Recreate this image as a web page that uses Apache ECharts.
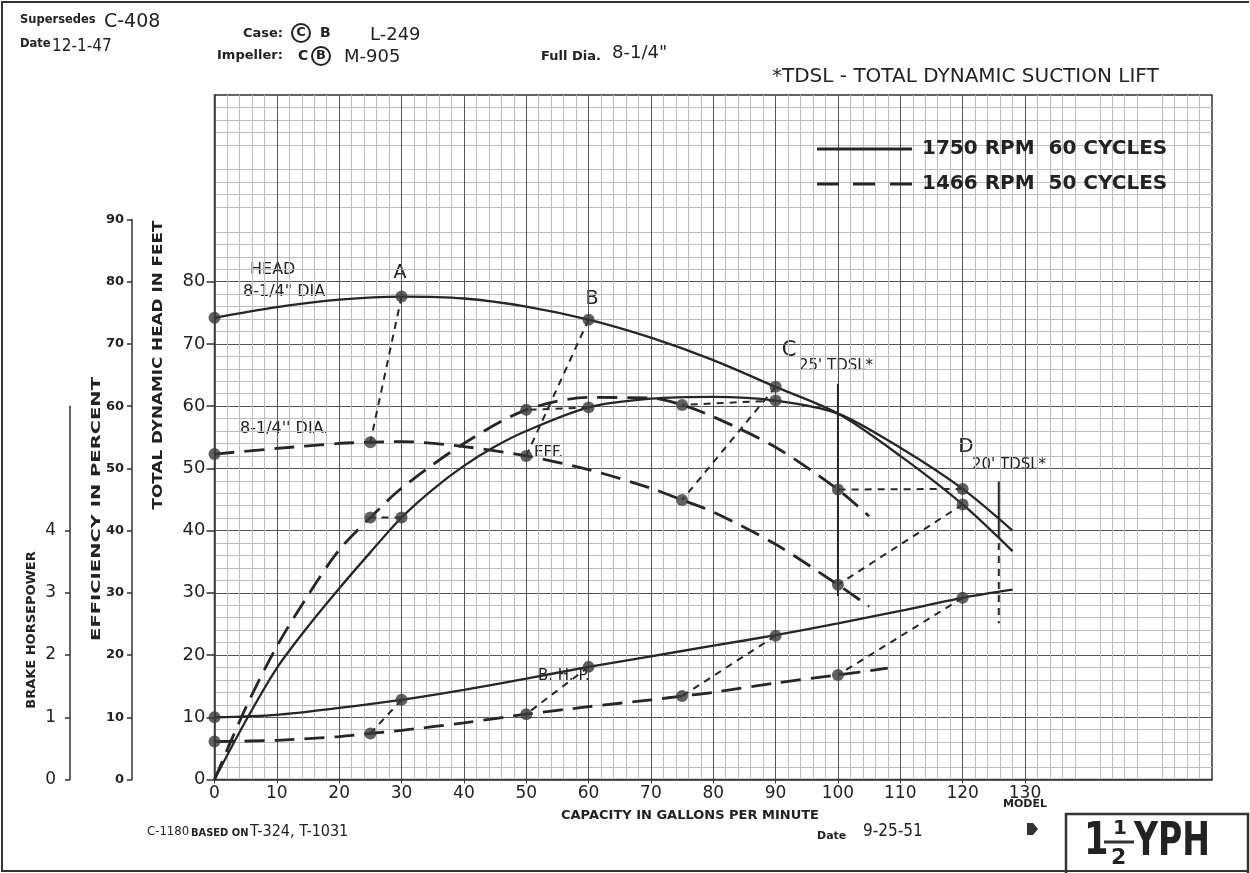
<!DOCTYPE html>
<html><head><meta charset="utf-8">
<script src="https://cdn.jsdelivr.net/npm/echarts@6/dist/echarts.min.js"></script>
<style>html,body{margin:0;padding:0;background:#fff}#c{width:1250px;height:873px}</style>
</head><body><div id="c"></div>
<script>
// ---------------- DATA ----------------
const xTicks = [0,10,20,30,40,50,60,70,80,90,100,110,120,130];
const headTicks = [0,10,20,30,40,50,60,70,80];
const effTicks = [0,10,20,30,40,50,60,70,80,90];
const bhpTicks = [0,1,2,3,4];

const N1750 = '1750 RPM  60 CYCLES';
const N1466 = '1466 RPM  50 CYCLES';

// 1750 RPM (solid)
const headFlow1750 = [0,10,20,30,40,50,60,70,80,90,100,110,120,128];
const head1750     = [74.2,75.9,77.1,77.6,77.3,76.0,73.9,71.0,67.4,63.1,58.8,52.0,44.2,36.7];
const effFlow1750  = [0,5,10,15,20,25,30,35,40,45,50,60,70,80,90,100,110,120,128];
const eff1750      = [0,9.4,17.9,24.6,30.7,36.5,42.1,46.6,50.4,53.5,56.0,59.8,61.2,61.5,60.9,58.8,53.3,46.7,40.0];
const bhpFlow1750  = [0,10,20,30,40,50,60,70,80,90,100,110,120,128];
const bhp1750      = [1.00,1.04,1.15,1.28,1.44,1.62,1.81,1.98,2.15,2.32,2.51,2.71,2.92,3.05];

// 1466 RPM (dashed)
const headFlow1466 = [0,10,20,25,30,40,50,60,70,75,80,90,100,105];
const head1466     = [52.3,53.2,54.0,54.2,54.3,53.5,52.0,49.8,46.8,44.9,43.0,37.8,31.3,27.8];
const effFlow1466  = [0,5,10,15,20,25,30,40,50,60,70,75,80,90,100,105];
const eff1466      = [0,11.5,21.4,29.6,36.9,42.1,46.8,54.0,59.4,61.4,61.3,60.2,58.3,53.4,46.6,42.3];
const bhpFlow1466  = [0,10,20,25,30,40,50,60,70,75,80,90,100,108];
const bhp1466      = [0.61,0.63,0.69,0.74,0.79,0.91,1.05,1.17,1.28,1.34,1.40,1.55,1.68,1.79];

// test points (A, B, C, D) and their 1466 RPM equivalents
const dotFlow1750 = [30,60,90,120];
const dotHead1750 = [77.6,73.9,63.1,44.2];
const dotEff1750  = [42.1,59.8,60.9,46.7];
const dotBhp1750  = [1.28,1.81,2.31,2.92];
const dotFlow1466 = [25,50,75,100];
const dotHead1466 = [54.2,52.0,44.9,31.3];
const dotEff1466  = [42.1,59.4,60.2,46.6];
const dotBhp1466  = [0.74,1.05,1.34,1.68];
// shut-off points
const shutHead = [74.2,52.3];
const shutBhp  = [1.00,0.61];

// TDSL limit markers
const tdslFlow = [100,125.8];
const tdslSolidTop = [63.6,47.9];
const tdslSolidBot = [29.5,40.1];
const tdslDashBot  = [29.5,25.1];

// ---------------- CHART ----------------
const INK = '#262626';
const FONT = 'DejaVu Sans';
const COND = 'DejaVu Sans Condensed';
const xy = (xs, ys) => xs.map((x,i)=>[x, ys[i]]);

const series = [];
function curve(name, xs, ys, yIdx, dashed){
  series.push({type:'line', name, xAxisIndex:0, yAxisIndex:yIdx, data:xy(xs,ys),
    smooth:0.3, showSymbol:false, silent:true, z:4,
    itemStyle:{color:INK},
    lineStyle:{color:INK, width: dashed?2.8:2.3, type: dashed?[20,10]:'solid'}});
}
curve(N1750, headFlow1750, head1750, 0, false);
curve(N1750, effFlow1750, eff1750, 1, false);
curve(N1750, bhpFlow1750, bhp1750, 2, false);
curve(N1466, headFlow1466, head1466, 0, true);
curve(N1466, effFlow1466, eff1466, 1, true);
curve(N1466, bhpFlow1466, bhp1466, 2, true);

function seg(p, q, yIdx, dashed){
  series.push({type:'line', name:'construction', xAxisIndex:0, yAxisIndex:yIdx, data:[p,q],
    showSymbol:false, silent:true, z:3,
    lineStyle:{color:INK, width:2, type: dashed?[7,6]:'solid'}});
}
for (let i=0;i<dotFlow1750.length;i++){
  seg([dotFlow1750[i],dotHead1750[i]],[dotFlow1466[i],dotHead1466[i]],0,true);
  seg([dotFlow1750[i],dotEff1750[i]],[dotFlow1466[i],dotEff1466[i]],1,true);
  seg([dotFlow1750[i],dotBhp1750[i]],[dotFlow1466[i],dotBhp1466[i]],2,true);
}
for (let i=0;i<tdslFlow.length;i++){
  seg([tdslFlow[i],tdslSolidTop[i]],[tdslFlow[i],tdslSolidBot[i]],0,false);
  if (i===1) seg([tdslFlow[i],tdslSolidBot[i]],[tdslFlow[i],tdslDashBot[i]],0,true);
}

function dots(name, pts, yIdx){
  series.push({type:'scatter', name, xAxisIndex:0, yAxisIndex:yIdx, data:pts,
    symbol:'circle', symbolSize:12, silent:true, z:6, itemStyle:{color:'#3a3a3a'}});
}
dots('pts', xy(dotFlow1750, dotHead1750).concat([[0,shutHead[0]]]), 0);
dots('pts', xy(dotFlow1466, dotHead1466).concat([[0,shutHead[1]]]), 0);
dots('pts', xy(dotFlow1750, dotEff1750), 1);
dots('pts', xy(dotFlow1466, dotEff1466), 1);
dots('pts', xy(dotFlow1750, dotBhp1750).concat([[0,shutBhp[0]]]), 2);
dots('pts', xy(dotFlow1466, dotBhp1466).concat([[0,shutBhp[1]]]), 2);

// layout constants
const G = {left:214.5, top:95, right:38, bottom:93.5};
const pxPer = (873 - G.bottom - G.top) / 110;   // px per 10 ft == 10 % == 1 hp (x10)
const effTop = 873 - G.bottom - 90*pxPer;
const bhpTop = 873 - G.bottom - 60*pxPer;

function T(text, x, y, size, weight, extra){
  extra = extra || {};
  return {type:'text', x, y, silent:true,
    rotation:extra.rotation||0, scaleX:extra.scaleX||1, scaleY:extra.scaleY||1,
    style:Object.assign({text, fontSize:size, fontWeight:weight||'normal', fontFamily:extra.family||FONT, fill:'#222',
      textAlign:'left', textVerticalAlign:'middle'}, extra.style||{})};
}
const C = {style:{textAlign:'center'}};

const graphics = [
  // page frame
  {type:'polyline', silent:true, shape:{points:[[1249,2],[2,2],[2,871],[1249,871]]}, style:{fill:'none', stroke:'#333', lineWidth:2}},
  // header
  T('Supersedes', 20, 20, 11.5, 'bold'),
  T('C-408', 104, 22, 19),
  T('Date', 20, 44, 11.5, 'bold'),
  T('12-1-47', 52, 47, 17, 'normal', {family:COND}),
  T('Case:', 243, 34, 13, 'bold'),
  {type:'circle', silent:true, shape:{cx:301, cy:33, r:9}, style:{fill:'none', stroke:'#222', lineWidth:2}},
  T('C', 301, 33, 13, 'bold', C),
  T('B', 320, 33, 14, 'bold'),
  T('L-249', 370, 35, 18),
  T('Impeller:', 217, 56, 13, 'bold'),
  T('C', 298, 56, 14, 'bold'),
  {type:'circle', silent:true, shape:{cx:321, cy:56, r:9}, style:{fill:'none', stroke:'#222', lineWidth:2}},
  T('B', 321, 56, 13, 'bold', C),
  T('M-905', 344, 57, 18),
  T('Full Dia.', 541, 57, 13, 'bold'),
  T('8-1/4"', 612, 53, 18),
  T('*TDSL - TOTAL DYNAMIC SUCTION LIFT', 772, 77, 20),
  // axis titles
  T('BRAKE HORSEPOWER', 32, 630, 13, 'bold', {rotation:Math.PI/2, style:{textAlign:'center'}}),
  T('EFFICIENCY IN PERCENT', 97, 509, 13, 'bold', {rotation:Math.PI/2, scaleX:1.5, style:{textAlign:'center'}}),
  T('TOTAL DYNAMIC HEAD IN FEET', 158, 365, 14, 'bold', {rotation:Math.PI/2, scaleX:1.2, style:{textAlign:'center'}}),
  T('CAPACITY IN GALLONS PER MINUTE', 690, 816, 13, 'bold', C),
  // in-chart annotations
  T('HEAD', 250, 270, 16),
  T('8-1/4" DIA', 243, 292, 16),
  T('A', 400, 273, 19, 'normal', C),
  T('B', 592, 299, 19, 'normal', C),
  T('C', 789, 351, 21, 'normal', C),
  T("25' TDSL*", 799, 366, 15),
  T('D', 966, 447, 20, 'normal', C),
  T("20' TDSL*", 972, 465, 15),
  T("8-1/4'' DIA.", 240, 429, 16),
  T('EFF.', 534, 453, 15),
  T('B. H. P.', 538, 676, 15),
  // footer
  T('C-1180', 147, 832, 13, 'normal', {family:COND}),
  T('BASED ON', 191, 833, 11, 'bold', {family:COND}),
  T('T-324, T-1031', 250, 832, 16, 'normal', {family:COND}),
  T('Date', 817, 836, 11, 'bold'),
  T('9-25-51', 863, 832, 17, 'normal', {family:COND}),
  T('MODEL', 1003, 804, 11, 'bold'),
  {type:'polygon', silent:true, shape:{points:[[1027,823],[1033,823],[1038,829],[1033,835],[1027,835]]}, style:{fill:'#333'}},
  {type:'rect', silent:true, shape:{x:1066, y:814, width:182, height:62}, style:{fill:'none', stroke:'#333', lineWidth:2.5}},
  T('1', 1084, 843, 44, 'bold', {scaleX:0.8}),
  T('1', 1113, 829, 20, 'bold'),
  {type:'line', silent:true, shape:{x1:1104, y1:842, x2:1134, y2:842}, style:{stroke:'#333', lineWidth:3}},
  T('2', 1111, 858, 22, 'bold'),
  T('YPH', 1134, 843, 46, 'bold', {scaleX:0.72})
];

const option = {
  animation:false,
  backgroundColor:'#ffffff',
  textStyle:{fontFamily:FONT},
  legend:{
    left:812, top:134, orient:'vertical', itemWidth:95, itemHeight:3, itemGap:15,
    selectedMode:false,
    textStyle:{fontSize:20, fontWeight:'bold', fontFamily:FONT, color:'#222', padding:[0,0,0,5]},
    data:[
      {name:N1750, icon:'rect'},
      {name:N1466, icon:'path://M0,0H22V3H0Z M36,0H58V3H36Z M73,0H95V3H73Z'}
    ]
  },
  grid:[
    {left:G.left, top:G.top, right:G.right, bottom:G.bottom, show:true, borderColor:'#333', borderWidth:1.5},
    {left:132, width:1, top:effTop, bottom:G.bottom},
    {left:70, width:1, top:bhpTop, bottom:G.bottom}
  ],
  xAxis:[
    {gridIndex:0, type:'value', min:0, max:160, interval:10,
     axisLine:{show:true, lineStyle:{color:'#333', width:1.5}},
     axisTick:{show:true, length:4, customValues:xTicks, lineStyle:{color:'#333'}},
     axisLabel:{customValues:xTicks, fontSize:17, color:'#222', margin:6, fontFamily:FONT},
     splitLine:{show:true, lineStyle:{color:'#555', width:1}},
     minorTick:{show:false, splitNumber:5},
     minorSplitLine:{show:true, lineStyle:{color:'#bdbdbd', width:1}}},
    {gridIndex:1, type:'value', min:0, max:1, show:false},
    {gridIndex:2, type:'value', min:0, max:1, show:false}
  ],
  yAxis:[
    {gridIndex:0, type:'value', min:0, max:110, interval:10,
     axisLine:{show:true, lineStyle:{color:'#333', width:1.5}},
     axisTick:{show:true, length:8, customValues:headTicks, lineStyle:{color:'#333', width:1.5}},
     axisLabel:{customValues:headTicks, fontSize:18, color:'#222', margin:9, fontFamily:FONT},
     splitLine:{show:true, lineStyle:{color:'#555', width:1}},
     minorTick:{show:false, splitNumber:5},
     minorSplitLine:{show:true, lineStyle:{color:'#bdbdbd', width:1}}},
    {gridIndex:0, type:'value', min:0, max:110, show:false},
    {gridIndex:0, type:'value', min:0, max:11, show:false},
    {gridIndex:1, type:'value', min:0, max:90, interval:10, position:'left',
     axisLine:{show:true, lineStyle:{color:'#333', width:1.5}},
     axisTick:{show:true, length:5, customValues:effTicks, lineStyle:{color:'#333', width:1.5}},
     axisLabel:{customValues:effTicks, fontSize:13, fontWeight:'bold', color:'#222', margin:8, fontFamily:FONT},
     splitLine:{show:false}},
    {gridIndex:2, type:'value', min:0, max:6, interval:1, position:'left',
     axisLine:{show:true, lineStyle:{color:'#333', width:1.5}},
     axisTick:{show:true, length:5, customValues:bhpTicks, lineStyle:{color:'#333', width:1.5}},
     axisLabel:{customValues:bhpTicks, fontSize:17, color:'#222', margin:14, fontFamily:FONT},
     splitLine:{show:false}}
  ],
  graphic:graphics,
  series:series
};

const chart = echarts.init(document.getElementById('c'), null, {renderer:'canvas'});
chart.setOption(option);
</script>
</body></html>
